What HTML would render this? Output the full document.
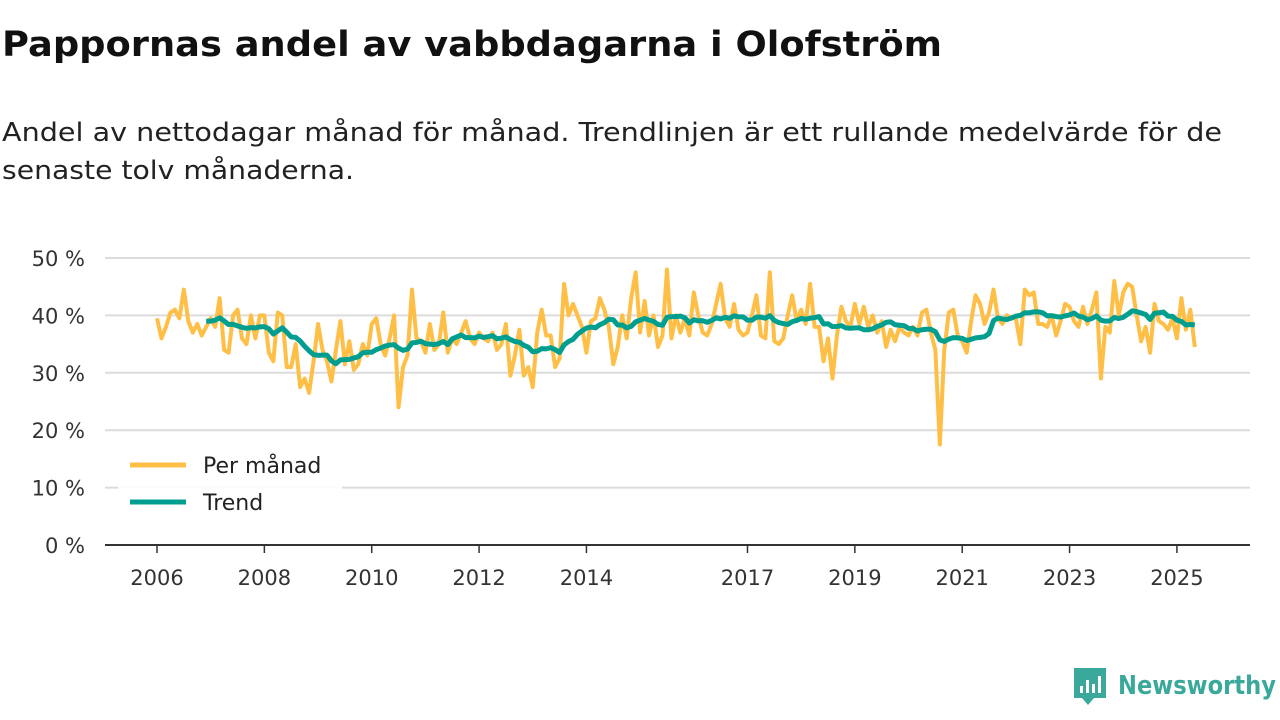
<!DOCTYPE html>
<html><head><meta charset="utf-8"><style>
html,body{margin:0;padding:0;background:#fff;}
svg{display:block;font-family:"DejaVu Sans","Liberation Sans",sans-serif;}
</style></head><body>
<svg id="chart" width="1280" height="720" viewBox="0 0 1280 720">
<text x="2" y="56" font-size="35" font-weight="bold" fill="#111" textLength="940" lengthAdjust="spacingAndGlyphs">Pappornas andel av vabbdagarna i Olofström</text>
<text x="2" y="141" font-size="26" fill="#222" textLength="1220" lengthAdjust="spacingAndGlyphs">Andel av nettodagar månad för månad. Trendlinjen är ett rullande medelvärde för de</text>
<text x="2" y="179" font-size="26" fill="#222" textLength="352" lengthAdjust="spacingAndGlyphs">senaste tolv månaderna.</text>
<g id="grid"></g>
<g id="yticks"></g>
<g id="xticks"></g>
<g id="series"></g>
<g>
<rect x="118" y="446" width="224" height="76" fill="#fff" opacity="0.9"/>
<line x1="130" y1="465" x2="186" y2="465" stroke="#ffbf47" stroke-width="5"/>
<text x="203" y="473" font-size="22" fill="#222">Per månad</text>
<line x1="130" y1="502" x2="186" y2="502" stroke="#009e8f" stroke-width="5"/>
<text x="203" y="510" font-size="22" fill="#222">Trend</text>
</g>
<g>
<path d="M1074 668 h32 v30 h-12 l-6 7 l-6 -7 h-8 z" fill="#3aa99b"/>
<rect x="1080" y="686" width="3" height="7" fill="#fff"/><rect x="1086" y="680" width="3" height="13" fill="#fff"/><rect x="1092" y="684" width="3" height="9" fill="#fff"/><rect x="1098" y="676" width="3" height="17" fill="#fff"/>
<text x="1118" y="694" font-size="26" font-weight="bold" fill="#3aa99b" textLength="158" lengthAdjust="spacingAndGlyphs">Newsworthy</text>
</g>
</svg>
<script>
const yTicks=[0,10,20,30,40,50];
const yTickLabels=["0 %","10 %","20 %","30 %","40 %","50 %"];
const xTickYears=[2006,2008,2010,2012,2014,2017,2019,2021,2023,2025];
const startYear=2006;
const monthly=[
39.5,36,38,40.5,41,39.5,44.5,39,37,38.5,36.5,38,
39.5,38,43,34,33.5,40,41,36,35,40,36,40,
40,33.5,32,40.5,40,31,31,35,27.5,29,26.5,32,
38.5,34,32,28.5,34,39,31.5,35.5,30.5,31.5,35,33,
38.5,39.5,35,33,36,40,24,31,33,44.5,36,35.5,
33.5,38.5,34,35,40.5,33.5,36,35,37,39,36,35,
37,36,35.5,37,34,35,38.5,29.5,33,37.5,29.5,31,
27.5,37,41,36.5,36.5,31,32.5,45.5,40,42,40,38,
33.5,39,39.5,43,41,38,31.5,34.5,40,36,43,47.5,
37,42.5,36.5,40,34.5,36.5,48,36,40,37,39.5,36.5,
44,40,37,36.5,38.5,42,45.5,39.5,38,42,37.5,36.5,
37,40,43.5,36.5,36,47.5,35.5,35,36,40,43.5,39,
41,38.5,45.5,38,38,32,36,29,36.5,41.5,39,38,
42,38.5,41.5,38,40,37,39,34.5,37.5,35.5,38,37,
36.5,38,36.5,40.5,41,37,34,17.5,34,40.5,41,36.5,
35.5,33.5,39,43.5,42,38.5,40.5,44.5,39.5,38.5,40,39.5,
39.5,35,44.5,43.5,44,38.5,38.5,38,40,36.5,39,42,
41.5,39,38,41.5,38.5,41,44,29,38,37,46,40,
44,45.5,45,40,35.5,38,33.5,42,39,38.5,37.5,39.5,
36,43,37.5,41,34.5];
const NS="http://www.w3.org/2000/svg";
function mk(t,a,p){const e=document.createElementNS(NS,t);for(const k in a)e.setAttribute(k,a[k]);p.appendChild(e);return e;}
const x0=157,pxYear=53.68,y0=545,pxPct=5.74;
function xs(i){return x0+i*pxYear/12;}
function xy(y){return x0+(y-startYear)*pxYear;}
function ys(v){return y0-v*pxPct;}
const grid=document.getElementById('grid'),yt=document.getElementById('yticks'),xt=document.getElementById('xticks'),ser=document.getElementById('series');
yTicks.forEach((v,i)=>{
 if(v>0){const l=mk('line',{x1:105,x2:1250,y1:ys(v),y2:ys(v),stroke:'#dcdcdc','stroke-width':2},grid);
 
 }
 const t=mk('text',{x:85,y:ys(v)+8,'font-size':21,fill:'#333','text-anchor':'end'},yt);
 t.textContent=yTickLabels[i];
 
 
});
const ax=mk('line',{x1:105,x2:1250,y1:y0,y2:y0,stroke:'#333','stroke-width':2},xt);


xTickYears.forEach(y=>{
 const tk=mk('line',{x1:xy(y),x2:xy(y),y1:y0,y2:y0+8,stroke:'#333','stroke-width':1.5},xt);
 
 
 const t=mk('text',{x:xy(y),y:y0+40,'font-size':21,fill:'#333','text-anchor':'middle'},xt);
 t.textContent=y;
 
 
});
const m=mk('polyline',{points:monthly.map((v,i)=>xs(i)+','+ys(v)).join(' '),fill:'none',stroke:'#ffbf47','stroke-width':4,'stroke-linejoin':'round'},ser);


const tp=[];
for(let i=11;i<monthly.length;i++){let s=0;for(let j=i-11;j<=i;j++)s+=monthly[j];tp.push(xs(i)+','+ys(s/12));}
const tr=mk('polyline',{points:tp.join(' '),fill:'none',stroke:'#009e8f','stroke-width':5,'stroke-linejoin':'round'},ser);


</script>
</body></html>
